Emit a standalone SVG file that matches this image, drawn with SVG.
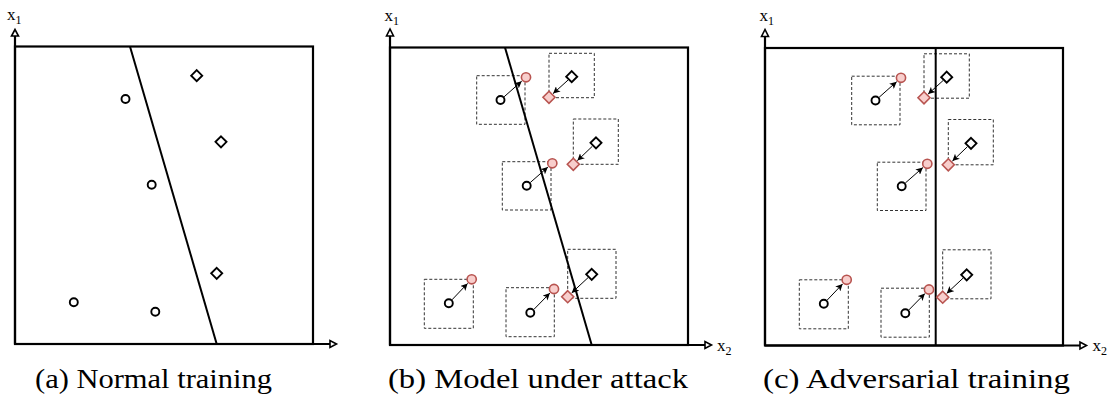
<svg xmlns="http://www.w3.org/2000/svg" width="1110" height="405" viewBox="0 0 1110 405">
<style>
.bg{fill:#fff}
.frame{fill:none;stroke:#000;stroke-width:2.2}
.axis{fill:none;stroke:#000;stroke-width:2.2}
.ahead{fill:#fff;stroke:#000;stroke-width:1.6;stroke-linejoin:miter}
.bound{stroke:#000;stroke-width:2;fill:none}
.pt{fill:#fff;stroke:#000;stroke-width:1.9}
.adv{fill:#f8cecc;stroke:#b85450;stroke-width:1.6}
.eps{fill:none;stroke:#333;stroke-width:1;stroke-dasharray:3 2}
.atk{fill:none;stroke:#000;stroke-width:1;marker-end:url(#arr)}
.lbl{font-family:"Liberation Serif","Times New Roman",serif;font-size:17px;fill:#000}
.sub{font-size:12px}
.cap{font-family:"Liberation Serif","Times New Roman",serif;font-size:27px;fill:#000}
</style>
<defs>
<marker id="arr" viewBox="0 0 10 10" refX="10" refY="5" markerWidth="7" markerHeight="7" markerUnits="userSpaceOnUse" orient="auto">
<path d="M0,0 L10,5 L0,10 L2.5,5 z" fill="#000"/>
</marker>
</defs>
<rect class="bg" x="0" y="0" width="1110" height="405"/>

<!-- Panel (a) -->
<g id="panel-a">
  <g id="a-axes">
    <rect class="frame" x="15" y="46.5" width="298" height="297.5"/>
    <line class="axis" x1="15" y1="344" x2="15" y2="36"/>
    <line class="axis" x1="15" y1="344" x2="330" y2="344"/>
    <polygon class="ahead" points="15,29.5 11.5,36 18.5,36"/>
    <polygon class="ahead" points="336.5,344 330,340.5 330,347.5"/>
    <text class="lbl" x="7" y="20">x<tspan class="sub" dy="4">1</tspan></text>
  </g>
  <g id="a-boundary"><line class="bound" x1="130" y1="46.5" x2="216.7" y2="344"/></g>
  <g id="a-c1"><circle class="pt" cx="125.5" cy="99" r="4"/></g>
  <g id="a-c2"><circle class="pt" cx="151.7" cy="184.7" r="4"/></g>
  <g id="a-c3"><circle class="pt" cx="73.8" cy="302.2" r="4"/></g>
  <g id="a-c4"><circle class="pt" cx="155.3" cy="311.7" r="4"/></g>
  <g id="a-d1"><polygon class="pt" points="196.7,70.2 202.2,75.7 196.7,81.2 191.2,75.7"/></g>
  <g id="a-d2"><polygon class="pt" points="221,136.3 226.5,141.8 221,147.3 215.5,141.8"/></g>
  <g id="a-d3"><polygon class="pt" points="216.7,267.8 222.2,273.3 216.7,278.8 211.2,273.3"/></g>
</g>

<!-- Panel (b) -->
<g id="panel-b" transform="translate(375,1)">
  <g id="b-axes">
    <rect class="frame" x="15" y="46.5" width="298" height="297.5"/>
    <line class="axis" x1="15" y1="344" x2="15" y2="35"/>
    <line class="axis" x1="15" y1="344" x2="330" y2="344"/>
    <polygon class="ahead" points="15,28 11.5,35 18.5,35"/>
    <polygon class="ahead" points="336.5,344 330,340.5 330,347.5"/>
    <text class="lbl" x="9.5" y="19.5">x<tspan class="sub" dy="4">1</tspan></text>
    <text class="lbl" x="342" y="349.5">x<tspan class="sub" dy="4">2</tspan></text>
  </g>
  <g id="b-eps">
    <rect class="eps" x="101.7" y="74.7" width="48.3" height="48.6"/>
    <rect class="eps" x="127.3" y="160.7" width="48.7" height="48.3"/>
    <rect class="eps" x="49.3" y="278.3" width="49" height="49"/>
    <rect class="eps" x="131" y="286.7" width="48.3" height="49"/>
    <rect class="eps" x="174" y="52.3" width="45.3" height="44.4"/>
    <rect class="eps" x="198.3" y="118" width="45" height="45.3"/>
    <rect class="eps" x="192.7" y="248.3" width="48.3" height="49"/>
  </g>
  <g id="b-boundary"><line class="bound" x1="130" y1="46.5" x2="216.7" y2="344"/></g>
  <g id="b-connectors">
    <line class="atk" x1="129.1" y1="95.8" x2="146.7" y2="80.2"/>
    <line class="atk" x1="155.3" y1="181.5" x2="172.9" y2="166.1"/>
    <line class="atk" x1="77" y1="298.8" x2="92.6" y2="282.4"/>
    <line class="atk" x1="158.9" y1="308.4" x2="174.9" y2="292.1"/>
    <line class="atk" x1="193" y1="79.1" x2="178.1" y2="92.6"/>
    <line class="atk" x1="217.3" y1="145.3" x2="202.4" y2="159.6"/>
    <line class="atk" x1="213" y1="276.7" x2="196.7" y2="291.9"/>
  </g>
  <g id="b-c1"><circle class="pt" cx="125.5" cy="99" r="4"/><circle class="adv" cx="151" cy="76.3" r="4.6"/></g>
  <g id="b-c2"><circle class="pt" cx="151.7" cy="184.7" r="4"/><circle class="adv" cx="177.3" cy="162.3" r="4.6"/></g>
  <g id="b-c3"><circle class="pt" cx="73.8" cy="302.2" r="4"/><circle class="adv" cx="96.7" cy="278.3" r="4.6"/></g>
  <g id="b-c4"><circle class="pt" cx="155.3" cy="311.7" r="4"/><circle class="adv" cx="179" cy="288" r="4.6"/></g>
  <g id="b-d1"><polygon class="pt" points="196.7,70.2 202.2,75.7 196.7,81.2 191.2,75.7"/><polygon class="adv" points="174,90.3 180,96.3 174,102.3 168,96.3"/></g>
  <g id="b-d2"><polygon class="pt" points="221,136.3 226.5,141.8 221,147.3 215.5,141.8"/><polygon class="adv" points="198.3,157.3 204.3,163.3 198.3,169.3 192.3,163.3"/></g>
  <g id="b-d3"><polygon class="pt" points="216.7,267.8 222.2,273.3 216.7,278.8 211.2,273.3"/><polygon class="adv" points="192.7,289.7 198.7,295.7 192.7,301.7 186.7,295.7"/></g>
</g>

<!-- Panel (c) -->
<g id="panel-c" transform="translate(750,1.5)">
  <g id="c-axes">
    <rect class="frame" x="15" y="46.5" width="298" height="297.5"/>
    <line class="axis" x1="15" y1="344" x2="15" y2="35"/>
    <line class="axis" x1="15" y1="344" x2="330" y2="344"/>
    <polygon class="ahead" points="15,28 11.5,35 18.5,35"/>
    <polygon class="ahead" points="336.5,344 330,340.5 330,347.5"/>
    <text class="lbl" x="9.5" y="19">x<tspan class="sub" dy="4">1</tspan></text>
    <text class="lbl" x="342.5" y="349">x<tspan class="sub" dy="4">2</tspan></text>
  </g>
  <g id="c-eps">
    <rect class="eps" x="101.7" y="74.7" width="48.3" height="48.6"/>
    <rect class="eps" x="127.3" y="160.7" width="48.7" height="48.3"/>
    <rect class="eps" x="49.3" y="278.3" width="49" height="49"/>
    <rect class="eps" x="131" y="286.7" width="48.3" height="49"/>
    <rect class="eps" x="174" y="52.3" width="45.3" height="44.4"/>
    <rect class="eps" x="198.3" y="118" width="45" height="45.3"/>
    <rect class="eps" x="192.7" y="248.3" width="48.3" height="49"/>
  </g>
  <g id="c-boundary"><line class="bound" x1="185.7" y1="46.5" x2="185.7" y2="344"/></g>
  <g id="c-connectors">
    <line class="atk" x1="129.1" y1="95.8" x2="146.7" y2="80.2"/>
    <line class="atk" x1="155.3" y1="181.5" x2="172.9" y2="166.1"/>
    <line class="atk" x1="77" y1="298.8" x2="92.6" y2="282.4"/>
    <line class="atk" x1="158.9" y1="308.4" x2="174.9" y2="292.1"/>
    <line class="atk" x1="193" y1="79.1" x2="178.1" y2="92.6"/>
    <line class="atk" x1="217.3" y1="145.3" x2="202.4" y2="159.6"/>
    <line class="atk" x1="213" y1="276.7" x2="196.7" y2="291.9"/>
  </g>
  <g id="c-c1"><circle class="pt" cx="125.5" cy="99" r="4"/><circle class="adv" cx="151" cy="76.3" r="4.6"/></g>
  <g id="c-c2"><circle class="pt" cx="151.7" cy="184.7" r="4"/><circle class="adv" cx="177.3" cy="162.3" r="4.6"/></g>
  <g id="c-c3"><circle class="pt" cx="73.8" cy="302.2" r="4"/><circle class="adv" cx="96.7" cy="278.3" r="4.6"/></g>
  <g id="c-c4"><circle class="pt" cx="155.3" cy="311.7" r="4"/><circle class="adv" cx="179" cy="288" r="4.6"/></g>
  <g id="c-d1"><polygon class="pt" points="196.7,70.2 202.2,75.7 196.7,81.2 191.2,75.7"/><polygon class="adv" points="174,90.3 180,96.3 174,102.3 168,96.3"/></g>
  <g id="c-d2"><polygon class="pt" points="221,136.3 226.5,141.8 221,147.3 215.5,141.8"/><polygon class="adv" points="198.3,157.3 204.3,163.3 198.3,169.3 192.3,163.3"/></g>
  <g id="c-d3"><polygon class="pt" points="216.7,267.8 222.2,273.3 216.7,278.8 211.2,273.3"/><polygon class="adv" points="192.7,289.7 198.7,295.7 192.7,301.7 186.7,295.7"/></g>
</g>

<g id="captions">
  <text class="cap" x="35" y="388" textLength="237" lengthAdjust="spacingAndGlyphs">(a) Normal training</text>
  <text class="cap" x="388" y="388" textLength="300" lengthAdjust="spacingAndGlyphs">(b) Model under attack</text>
  <text class="cap" x="763" y="388" textLength="307" lengthAdjust="spacingAndGlyphs">(c) Adversarial training</text>
</g>
</svg>
